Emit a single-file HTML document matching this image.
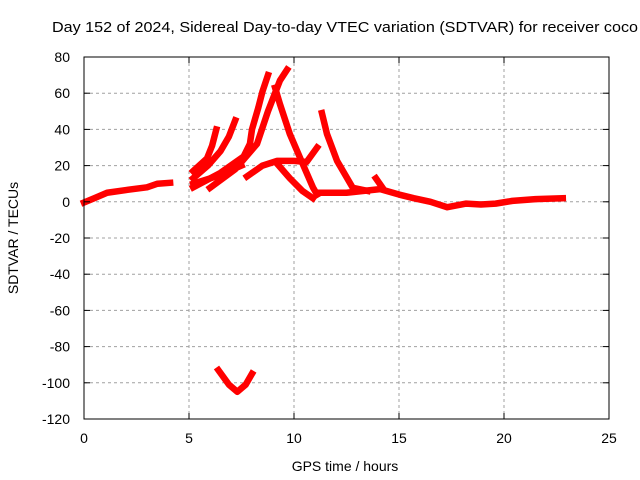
<!DOCTYPE html>
<html><head><meta charset="utf-8"><style>
body{margin:0;background:#fff}
svg{display:block;font-family:"Liberation Sans",sans-serif}
</style></head><body>
<svg id="chart" width="640" height="480">
<text x="52" y="32" font-size="15" textLength="586" lengthAdjust="spacingAndGlyphs">Day 152 of 2024, Sidereal Day-to-day VTEC variation (SDTVAR) for receiver coco</text>
<g id="grid"></g>
<g id="marks"></g>
<rect x="84" y="57" width="525" height="362" fill="none" stroke="#000"/>
<g id="ticks"></g>
<text x="345" y="471" font-size="14" text-anchor="middle">GPS time / hours</text>
<text transform="translate(18,238) rotate(-90)" font-size="14" text-anchor="middle">SDTVAR / TECUs</text>
</svg>
<script>
const xTicks=[0,5,10,15,20,25];
const yTicks=[80,60,40,20,0,-20,-40,-60,-80,-100,-120];
const trackBaseline1=[[0,-0.4],[0.5,2],[1.1,5],[2,6.5],[3,8],[3.5,10],[4.1,10.5]];
const trackBaseline2=[[11.1,5],[12.5,5],[14.1,7],[15,4],[15.7,2],[16.5,0],[17.3,-3],[18.2,-1],[18.9,-1.5],[19.6,-1],[20.4,0.5],[21.5,1.5],[22.8,2]];
const trackA=[[5.2,17],[5.86,24],[6.1,31],[6.3,40]];
const trackB=[[5.2,13],[5.9,20],[6.5,28],[6.9,36],[7.2,45]];
const trackC=[[5.2,8],[6.5,16],[7.6,25],[7.9,32],[8.0,40],[8.3,52],[8.5,61],[8.76,70]];
const trackD=[[6,7.7],[7.2,18],[8.24,32],[8.76,50],[9.33,67],[9.67,73]];
const trackE=[[9.1,63],[9.33,54],[9.8,37.5],[10.3,24],[10.9,8],[11.1,4]];
const trackF=[[7.76,14],[8.5,20],[9.2,22.6],[10,22.6],[10.6,22],[11.1,30]];
const trackG=[[9.2,21],[9.8,13],[10.4,6],[10.9,2]];
const trackH=[[11.33,49],[11.57,37.5],[12.05,22.6],[12.8,7.7],[13.5,6]];
const trackI=[[5.2,10],[6.3,14],[7.5,20]];
const trackJ=[[13.9,13],[14.2,8]];
const trackDip=[[6.4,-93],[6.9,-101],[7.3,-105],[7.7,-101],[8,-95]];
const tracks=[trackBaseline1,trackBaseline2,trackA,trackB,trackC,trackD,trackE,trackF,trackG,trackH,trackI,trackJ,trackDip];
const NS="http://www.w3.org/2000/svg";
const X0=84,X1=609,Y0=419,Y1=57;
function sx(h){return X0+(h-0)/(25-0)*(X1-X0);}
function sy(v){return Y0-(v+120)/200*(Y0-Y1);}
const grid=document.getElementById('grid'),ticks=document.getElementById('ticks'),marks=document.getElementById('marks');
function mk(tag,attrs,parent){const e=document.createElementNS(NS,tag);for(const k in attrs)e.setAttribute(k,attrs[k]);parent.appendChild(e);return e;}
xTicks.forEach(t=>{
 const x=sx(t);
 if(t>0&&t<25){const g=mk('line',{x1:x,x2:x,y1:Y1,y2:Y0,stroke:'#a0a0a0','stroke-dasharray':'3,3'},grid);
 
 }
 mk('line',{x1:x,x2:x,y1:Y0,y2:Y0-6,stroke:'#000'},ticks);
 mk('line',{x1:x,x2:x,y1:Y1,y2:Y1+6,stroke:'#000'},ticks);
 const l=mk('text',{x:x,y:Y0+24,'font-size':14,'text-anchor':'middle'},ticks);l.textContent=t;
 
 
});
yTicks.forEach(t=>{
 const y=sy(t);
 if(t>-120&&t<80){const g=mk('line',{x1:X0,x2:X1,y1:y,y2:y,stroke:'#a0a0a0','stroke-dasharray':'3,3'},grid);
 
 }
 mk('line',{x1:X0,x2:X0+6,y1:y,y2:y,stroke:'#000'},ticks);
 mk('line',{x1:X1,x2:X1-6,y1:y,y2:y,stroke:'#000'},ticks);
 const l=mk('text',{x:X0-14,y:y+5,'font-size':14,'text-anchor':'end'},ticks);l.textContent=t;
 
 
});
tracks.forEach((tr,i)=>{
 const p=mk('polyline',{points:tr.map(d=>sx(d[0])+','+sy(d[1])).join(' '),fill:'none',stroke:'#ff0000','stroke-width':6.5,'stroke-linejoin':'round','stroke-linecap':'square'},marks);
 
 
});
</script>
</body></html>
